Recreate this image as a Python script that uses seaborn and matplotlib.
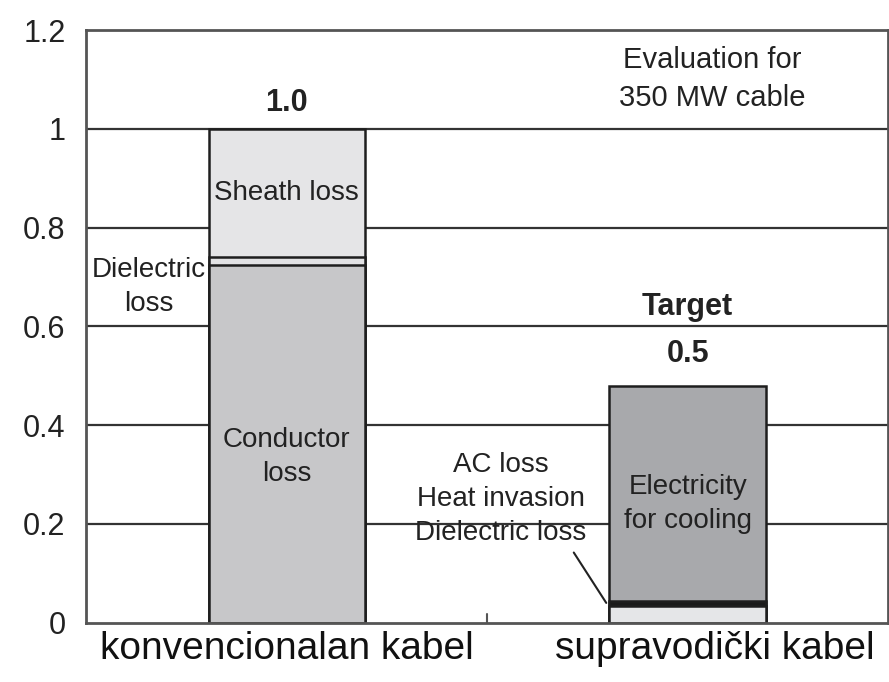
import numpy as np
import pandas as pd
import matplotlib
matplotlib.use("Agg")
import matplotlib.pyplot as plt
import matplotlib.transforms as mtransforms
import seaborn as sns

# Data (relative loss)
categories = ["konvencionalan kabel", "supravodički kabel"]
conv_segments = [0.725, 0.015, 0.26]     # conductor, dielectric, sheath
conv_colors = ["#c7c7c9", "#e2e2e4", "#e5e5e7"]
sc_segments = [0.034, 0.009, 0.437]      # AC/heat/dielectric, separator, cooling
sc_colors = ["#e5e6e8", "#1a1a1a", "#a8a9ac"]
yticks = [0, 0.2, 0.4, 0.6, 0.8, 1, 1.2]
ytick_labels = ["0", "0.2", "0.4", "0.6", "0.8", "1", "1.2"]

sns.set_theme(style="white")
plt.rcParams["font.family"] = ["Liberation Sans", "DejaVu Sans"]

fig = plt.figure(figsize=(8.89, 6.82), dpi=100)
ax = fig.add_axes([0.097, 0.087, 0.902, 0.869])

# horizontal grid lines behind the bars
for y in yticks[1:-1]:
    ax.axhline(y, color="#333333", lw=1.6, zorder=0)

# stacked bars drawn as cumulative overlays, tallest first
conv_cum = np.cumsum(conv_segments)
sc_cum = np.cumsum(sc_segments)
for i in range(len(conv_segments) - 1, -1, -1):
    layer = pd.DataFrame({"cat": categories, "val": [conv_cum[i], sc_cum[i]]})
    sns.barplot(data=layer, x="cat", y="val", hue="cat",
                palette=[conv_colors[i], sc_colors[i]], legend=False,
                width=0.39, edgecolor="#1e1e1e", linewidth=1.8,
                saturation=1, ax=ax, zorder=2)

ax.set_xlim(-0.5, 1.5)
ax.set_ylim(0, 1.2)
ax.set_yticks(yticks)
ax.set_yticklabels(ytick_labels, fontsize=22, color="#222222")
ax.set_xticks([0, 1])
ax.set_xticklabels(categories, fontsize=28, color="#111111")
ax.tick_params(axis="y", length=0, pad=15)
ax.tick_params(axis="x", length=0, pad=6)
ax.set_xlabel("")
ax.set_ylabel("")

# second category label sits a bit right of its bar in the original
lab2 = ax.get_xticklabels()[1]
lab2.set_transform(lab2.get_transform() +
                   mtransforms.ScaledTranslation(0.27, 0, fig.dpi_scale_trans))

# small middle tick on the x axis
ax.plot([0.5, 0.5], [0, 0.018], color="#555555", lw=1.5, zorder=3)

for side in ["left", "top", "bottom", "right"]:
    ax.spines[side].set_color("#555555")
    ax.spines[side].set_linewidth(2)

txt = dict(ha="center", va="center", color="#222222", fontsize=20, zorder=4)
bold = {**txt, "fontsize": 22, "fontweight": "bold"}
ax.text(0, 1.053, "1.0", **bold)
ax.text(1.062, 1.10, "Evaluation for\n350 MW cable", linespacing=1.45,
        **{**txt, "fontsize": 21})
ax.text(0, 0.87, "Sheath loss", **txt)
ax.text(0, 0.335, "Conductor\nloss", linespacing=1.4, **txt)
ax.text(-0.345, 0.680, "Dielectric\nloss", linespacing=1.4, **txt)
ax.text(1, 0.640, "Target", **bold)
ax.text(1, 0.545, "0.5", **bold)
ax.text(0.534, 0.251, "AC loss\nHeat invasion\nDielectric loss", linespacing=1.4, **txt)
ax.text(1, 0.240, "Electricity\nfor cooling", linespacing=1.4, **txt)

# leader line to the thin bottom segment
ax.plot([0.716, 0.797], [0.142, 0.040], color="#222222", lw=1.5, zorder=4)

fig.savefig("out.png", dpi=100)
